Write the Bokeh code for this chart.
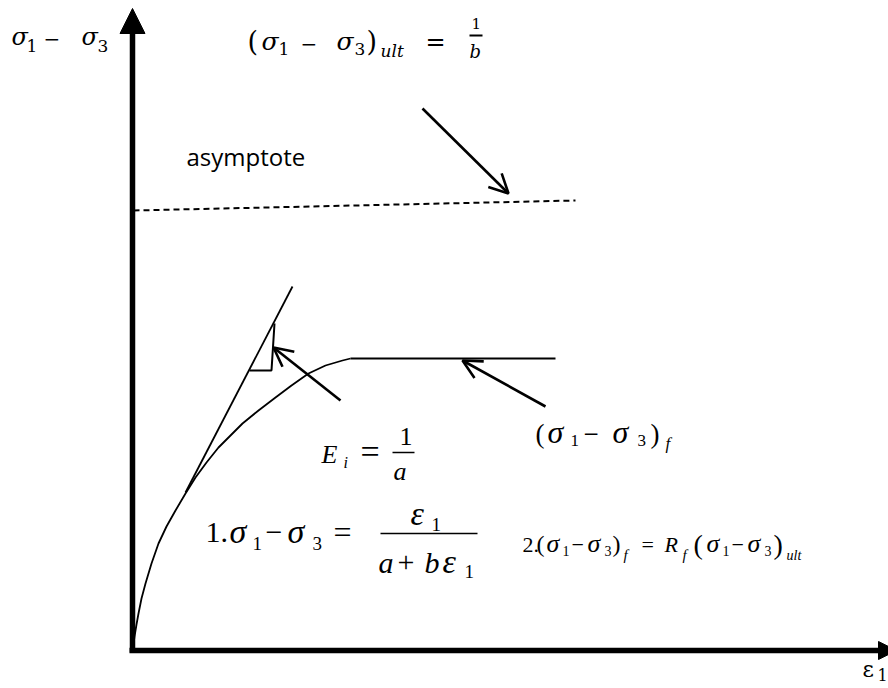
from bokeh.plotting import figure
from bokeh.models import Range1d, Arrow, OpenHead, NormalHead
from bokeh.core.properties import value
from bokeh.embed import file_html
from bokeh.resources import INLINE

# ---- data (arbitrary strain / deviator-stress units) ----
strain = [0, 2, 4, 6, 9, 13, 19, 26, 34, 43, 53, 63, 74, 86, 98, 110, 126, 143,
          159, 176, 193, 210, 218]
deviator_stress = [0, 14, 26, 37, 52, 67, 87, 107, 124, 140, 157, 173, 188, 203,
                   215, 227, 240, 253, 265, 277, 285, 290, 292]
plateau_strain = [218, 423]
plateau_stress = [292, 292]
asymptote_strain = [1, 443]
asymptote_stress = [440, 450]
tangent_strain = [53, 160]
tangent_stress = [158, 364]
triangle_strain = [117, 139, 142]
triangle_stress = [280, 280, 327]

# origin of the axes in the 888x688 picture
OX, OY = 132, 650
W, H = 888, 688


def at(px, py):
    return px - OX, OY - py


p = figure(width=W, height=H, output_backend="svg", toolbar_location=None,
           x_range=Range1d(0 - OX, W - OX), y_range=Range1d(OY - H, OY - 0),
           min_border=0)
p.axis.visible = False
p.grid.visible = False
p.outline_line_color = None
p.background_fill_color = "white"
p.border_fill_color = "white"

# axes (thick arrows)
x0, y0 = at(132, 652)
x1, y1 = at(132, 33)
p.line([x0, x1], [y0, y1], line_width=5.5, line_color="black")
p.add_layout(Arrow(end=NormalHead(size=25, fill_color="black", line_color="black"),
                   x_start=x1, y_start=y1 - 10, x_end=at(132, 8)[0], y_end=at(132, 8)[1],
                   line_alpha=0))
x0, y0 = at(129, 650)
x1, y1 = at(878, 650)
p.line([x0, x1], [y0, y1], line_width=5.5, line_color="black")
p.add_layout(Arrow(end=NormalHead(size=18, fill_color="black", line_color="black"),
                   x_start=x1 - 10, y_start=y1, x_end=at(896, 650)[0], y_end=at(896, 650)[1],
                   line_alpha=0))

# curve, plateau, tangent, slope triangle
p.line(strain, deviator_stress, line_width=1.8, line_color="black")
p.line(plateau_strain, plateau_stress, line_width=2, line_color="black")
p.line(tangent_strain, tangent_stress, line_width=1.8, line_color="black")
p.line(triangle_strain, triangle_stress, line_width=2, line_color="black")
p.line(asymptote_strain, asymptote_stress, line_width=2, line_color="black",
       line_dash="6 4")

# pointer arrows
for (tx, ty), (hx, hy) in [((422, 108), (508, 193)),
                           ((340, 400), (273, 347)),
                           ((545, 406), (462, 360))]:
    xs, ys = at(tx, ty)
    xe, ye = at(hx, hy)
    p.add_layout(Arrow(end=OpenHead(size=19, line_width=2.6, line_color="black"),
                       x_start=xs, y_start=ys, x_end=xe, y_end=ye,
                       line_width=2.6, line_color="black"))

CAM = "DejaVu Serif"
TNR = "Liberation Serif"


def txt(px, py, s, size, font, style="normal"):
    # py is the wanted alphabetic baseline; compensate the text box offset
    x, y = at(px, py - 0.36 * size)
    p.text([x], [y], text=[s], text_font=value(font), text_font_size=value(f"{size}px"),
           text_font_style=style, text_baseline="alphabetic", text_align="left",
           text_color="black")


def bar(px0, px1, py, w=1.5):
    xa, ya = at(px0, py)
    xb, yb = at(px1, py)
    p.line([xa, xb], [ya, yb], line_width=w, line_color="black")


# y-axis title  σ1 − σ3
txt(11, 45, "σ", 24, CAM, "italic")
txt(26, 52, "1", 17, CAM)
txt(43, 45, "−", 20, CAM)
txt(81, 45, "σ", 24, CAM, "italic")
txt(97, 52, "3", 17, CAM)

# (σ1 − σ3)ult = 1/b
txt(247, 51, "(", 27, CAM)
txt(261, 50, "σ", 25, CAM, "italic")
txt(278, 55, "1", 17, CAM)
txt(300, 50, "−", 20, CAM)
txt(336, 50, "σ", 25, CAM, "italic")
txt(354, 55, "3", 17, CAM)
txt(366, 51, ")", 27, CAM)
txt(380, 57, "ult", 17, CAM, "italic")
txt(425, 50, "=", 24, CAM)
txt(471, 28, "1", 15, CAM)
bar(469, 482, 35, 1.8)
txt(469, 57, "b", 18, CAM, "italic")

# asymptote
txt(186, 165, "asymptote", 24, "Open Sans")

# E_i = 1/a
txt(321, 463, "E", 26, TNR, "italic")
txt(343, 468, "i", 16, TNR, "italic")
txt(360, 463, "=", 34, TNR)
txt(399, 445, "1", 26, TNR)
bar(392, 414, 452)
txt(393, 480, "a", 26, TNR, "italic")

# (σ1 − σ3)f
txt(535, 443, "(", 27, TNR)
txt(547, 443, "σ", 32, TNR, "italic")
txt(570, 446, "1", 17, TNR)
txt(583, 443, "−", 27, TNR)
txt(612, 443, "σ", 32, TNR, "italic")
txt(637, 446, "3", 17, TNR)
txt(650, 443, ")", 27, TNR)
txt(665, 449, "f", 17, TNR, "italic")

# 1. σ1 − σ3 = ε1 / (a + bε1)
txt(205, 543, "1.", 30, TNR)
txt(229, 543, "σ", 34, TNR, "italic")
txt(252, 550, "1", 19, TNR)
txt(265, 543, "−", 30, TNR)
txt(287, 543, "σ", 34, TNR, "italic")
txt(312, 550, "3", 19, TNR)
txt(333, 543, "=", 32, TNR)
txt(410, 525, "ε", 34, TNR, "italic")
txt(431, 531, "1", 19, TNR)
bar(380, 477, 533)
txt(378, 573, "a", 30, TNR, "italic")
txt(397, 573, "+", 30, TNR)
txt(424, 573, "b", 30, TNR, "italic")
txt(442, 573, "ε", 34, TNR, "italic")
txt(464, 578, "1", 19, TNR)

# 2. (σ1 − σ3)f = Rf (σ1 − σ3)ult
txt(522, 552, "2.", 22, TNR)
txt(536, 552, "(", 24, TNR)
txt(546, 552, "σ", 26, TNR, "italic")
txt(562, 556, "1", 14, TNR)
txt(571, 552, "−", 22, TNR)
txt(587, 552, "σ", 26, TNR, "italic")
txt(604, 556, "3", 14, TNR)
txt(612, 552, ")", 24, TNR)
txt(623, 560, "f", 15, TNR, "italic")
txt(641, 552, "=", 22, TNR)
txt(664, 552, "R", 22, TNR, "italic")
txt(682, 560, "f", 15, TNR, "italic")
txt(693, 554, "(", 28, TNR)
txt(706, 552, "σ", 26, TNR, "italic")
txt(722, 556, "1", 14, TNR)
txt(731, 552, "−", 22, TNR)
txt(747, 552, "σ", 26, TNR, "italic")
txt(764, 556, "3", 14, TNR)
txt(773, 554, ")", 28, TNR)
txt(786, 560, "ult", 14, TNR, "italic")

# x-axis title ε1
txt(862, 677, "ε", 22, CAM)
txt(877, 680, "1", 16, CAM)

open("out.html", "w").write(file_html(p, INLINE))
